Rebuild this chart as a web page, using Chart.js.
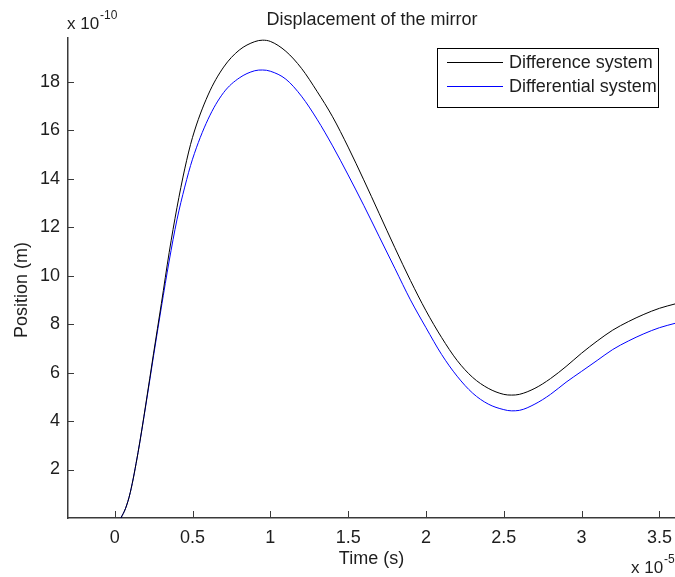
<!DOCTYPE html>
<html>
<head>
<meta charset="utf-8">
<script src="https://cdn.jsdelivr.net/npm/chart.js@4/dist/chart.umd.min.js"></script>
<style>
html,body{margin:0;padding:0;background:#fff;}
#wrap{width:675px;height:577px;position:relative;}
</style>
</head>
<body>
<div id="wrap"><canvas id="c" width="675" height="577"></canvas></div>
<script>
// Time in units of 1e-5 s
const timeS = [0.04,0.07,0.1,0.15,0.2,0.25,0.3,0.35,0.4,0.45,0.5,
  0.6,0.7,0.8,0.9,0.95,1.0,
  1.1,1.2,1.3,1.4,1.5,1.6,1.7,1.8,1.9,2.0,2.1,2.2,2.3,2.4,2.5,
  2.55,
  2.6,2.7,2.8,2.9,3.0,3.1,3.2,3.3,3.4,3.5,3.6];
// Position in units of 1e-10 m
const differenceSystem = [0,0.4,1.05,2.7,4.7,6.8,8.85,10.95,12.8,14.4,15.7,
  17.45,18.6,19.3,19.65,19.71,19.66,
  19.25,18.55,17.6,16.55,15.3,13.95,12.55,11.15,9.8,8.55,7.45,6.5,5.8,5.35,5.1,
  5.07,
  5.1,5.35,5.75,6.25,6.8,7.3,7.75,8.1,8.4,8.65,8.83];
const differentialSystem = [0,0.4,1.05,2.7,4.65,6.7,8.7,10.6,12.3,13.65,14.8,
  16.45,17.55,18.15,18.45,18.48,18.43,
  18.1,17.4,16.45,15.35,14.15,12.9,11.6,10.3,9.0,7.85,6.75,5.85,5.15,4.7,4.47,
  4.42,
  4.44,4.7,5.1,5.6,6.05,6.5,6.95,7.3,7.6,7.85,8.03];
const seriesNames = ['Difference system','Differential system'];
const xTicks = [0,0.5,1,1.5,2,2.5,3,3.5];
const yTicks = [2,4,6,8,10,12,14,16,18];
const titleText = 'Displacement of the mirror';
const xLabel = 'Time (s)';
const yLabel = 'Position (m)';

const FONT = '"Liberation Sans", Arial, sans-serif';
const TXT = '#1e1e1e';
const AX = '#3a3a3a';

const toPts = (xs, ys) => xs.map((x,i)=>({x:x,y:ys[i]}));

const decor = {
  id:'decor',
  afterDatasetsDraw(chart){
    const ctx = chart.ctx;
    const ca = chart.chartArea;
    const xs = chart.scales.x, ys = chart.scales.y;
    ctx.save();
    // inward tick marks
    ctx.strokeStyle = AX; ctx.lineWidth = 1;
    ctx.beginPath();
    xTicks.forEach(v=>{
      const px = Math.round(xs.getPixelForValue(v))+0.5;
      ctx.moveTo(px, ca.bottom); ctx.lineTo(px, ca.bottom-7);
    });
    yTicks.forEach(v=>{
      const py = Math.round(ys.getPixelForValue(v))+0.5;
      ctx.moveTo(ca.left, py); ctx.lineTo(ca.left+6, py);
    });
    ctx.stroke();

    // legend
    const lx=437.5, ly=48.5, lw=221, lh=59;
    ctx.fillStyle='#fff'; ctx.fillRect(lx,ly,lw,lh);
    ctx.strokeStyle='#000'; ctx.lineWidth=1; ctx.strokeRect(lx,ly,lw,lh);
    ctx.font = '18px '+FONT; ctx.textBaseline='middle'; ctx.textAlign='left';
    chart.data.datasets.forEach((ds,i)=>{
      const yy = 62.5 + i*24;
      ctx.strokeStyle = ds.borderColor; ctx.beginPath();
      ctx.moveTo(447,yy); ctx.lineTo(503,yy); ctx.stroke();
      ctx.fillStyle = TXT; ctx.fillText(ds.label, 509, yy+1);
    });

    // title
    ctx.fillStyle = TXT;
    ctx.textAlign='center'; ctx.textBaseline='alphabetic';
    ctx.font = '18px '+FONT;
    ctx.fillText(titleText, 372, 25);
    // x label
    ctx.fillText(xLabel, (ca.left+ca.right)/2, 564);
    // y label
    ctx.save();
    ctx.translate(27, 290); ctx.rotate(-Math.PI/2);
    ctx.fillText(yLabel, 0, 0);
    ctx.restore();
    // exponent labels
    ctx.textAlign='left';
    ctx.font = '17px '+FONT;
    ctx.fillText('x 10', 67, 29);
    ctx.fillText('x 10', 631, 573);
    ctx.font = '12px '+FONT;
    ctx.fillText('-10', 100, 19);
    ctx.fillText('-5', 664, 563);
    ctx.restore();
  }
};

new Chart(document.getElementById('c'), {
  type:'line',
  data:{
    datasets:[
      {label:seriesNames[0], data:toPts(timeS,differenceSystem), borderColor:'#000000', borderWidth:1, pointRadius:0, cubicInterpolationMode:'monotone', fill:false},
      {label:seriesNames[1], data:toPts(timeS,differentialSystem), borderColor:'#0000ff', borderWidth:1, pointRadius:0, cubicInterpolationMode:'monotone', fill:false}
    ]
  },
  options:{
    responsive:false, animation:false, devicePixelRatio:1,
    layout:{padding:{top:38,right:0,left:0,bottom:0}},
    plugins:{legend:{display:false}, title:{display:false}, tooltip:{enabled:false}},
    scales:{
      x:{type:'linear', min:-0.3, max:3.6,
        afterBuildTicks:s=>{s.ticks = xTicks.map(v=>({value:v}));},
        afterFit:s=>{s.height=59; s.paddingLeft=0; s.paddingRight=0;},
        grid:{drawOnChartArea:false, drawTicks:false},
        border:{display:true, color:AX, width:1.5},
        ticks:{padding:9, color:TXT, font:{family:FONT,size:18}, maxRotation:0, autoSkip:false,
          callback:v=>String(v)}
      },
      y:{type:'linear', min:0, max:19.8,
        afterBuildTicks:s=>{s.ticks = yTicks.map(v=>({value:v}));},
        afterFit:s=>{s.width=68; s.paddingTop=0; s.paddingBottom=0;},
        grid:{drawOnChartArea:false, drawTicks:false},
        border:{display:true, color:AX, width:1.5},
        ticks:{padding:8, color:TXT, font:{family:FONT,size:18}, autoSkip:false,
          callback:v=>String(v)}
      }
    }
  },
  plugins:[decor]
});
</script>
</body>
</html>
